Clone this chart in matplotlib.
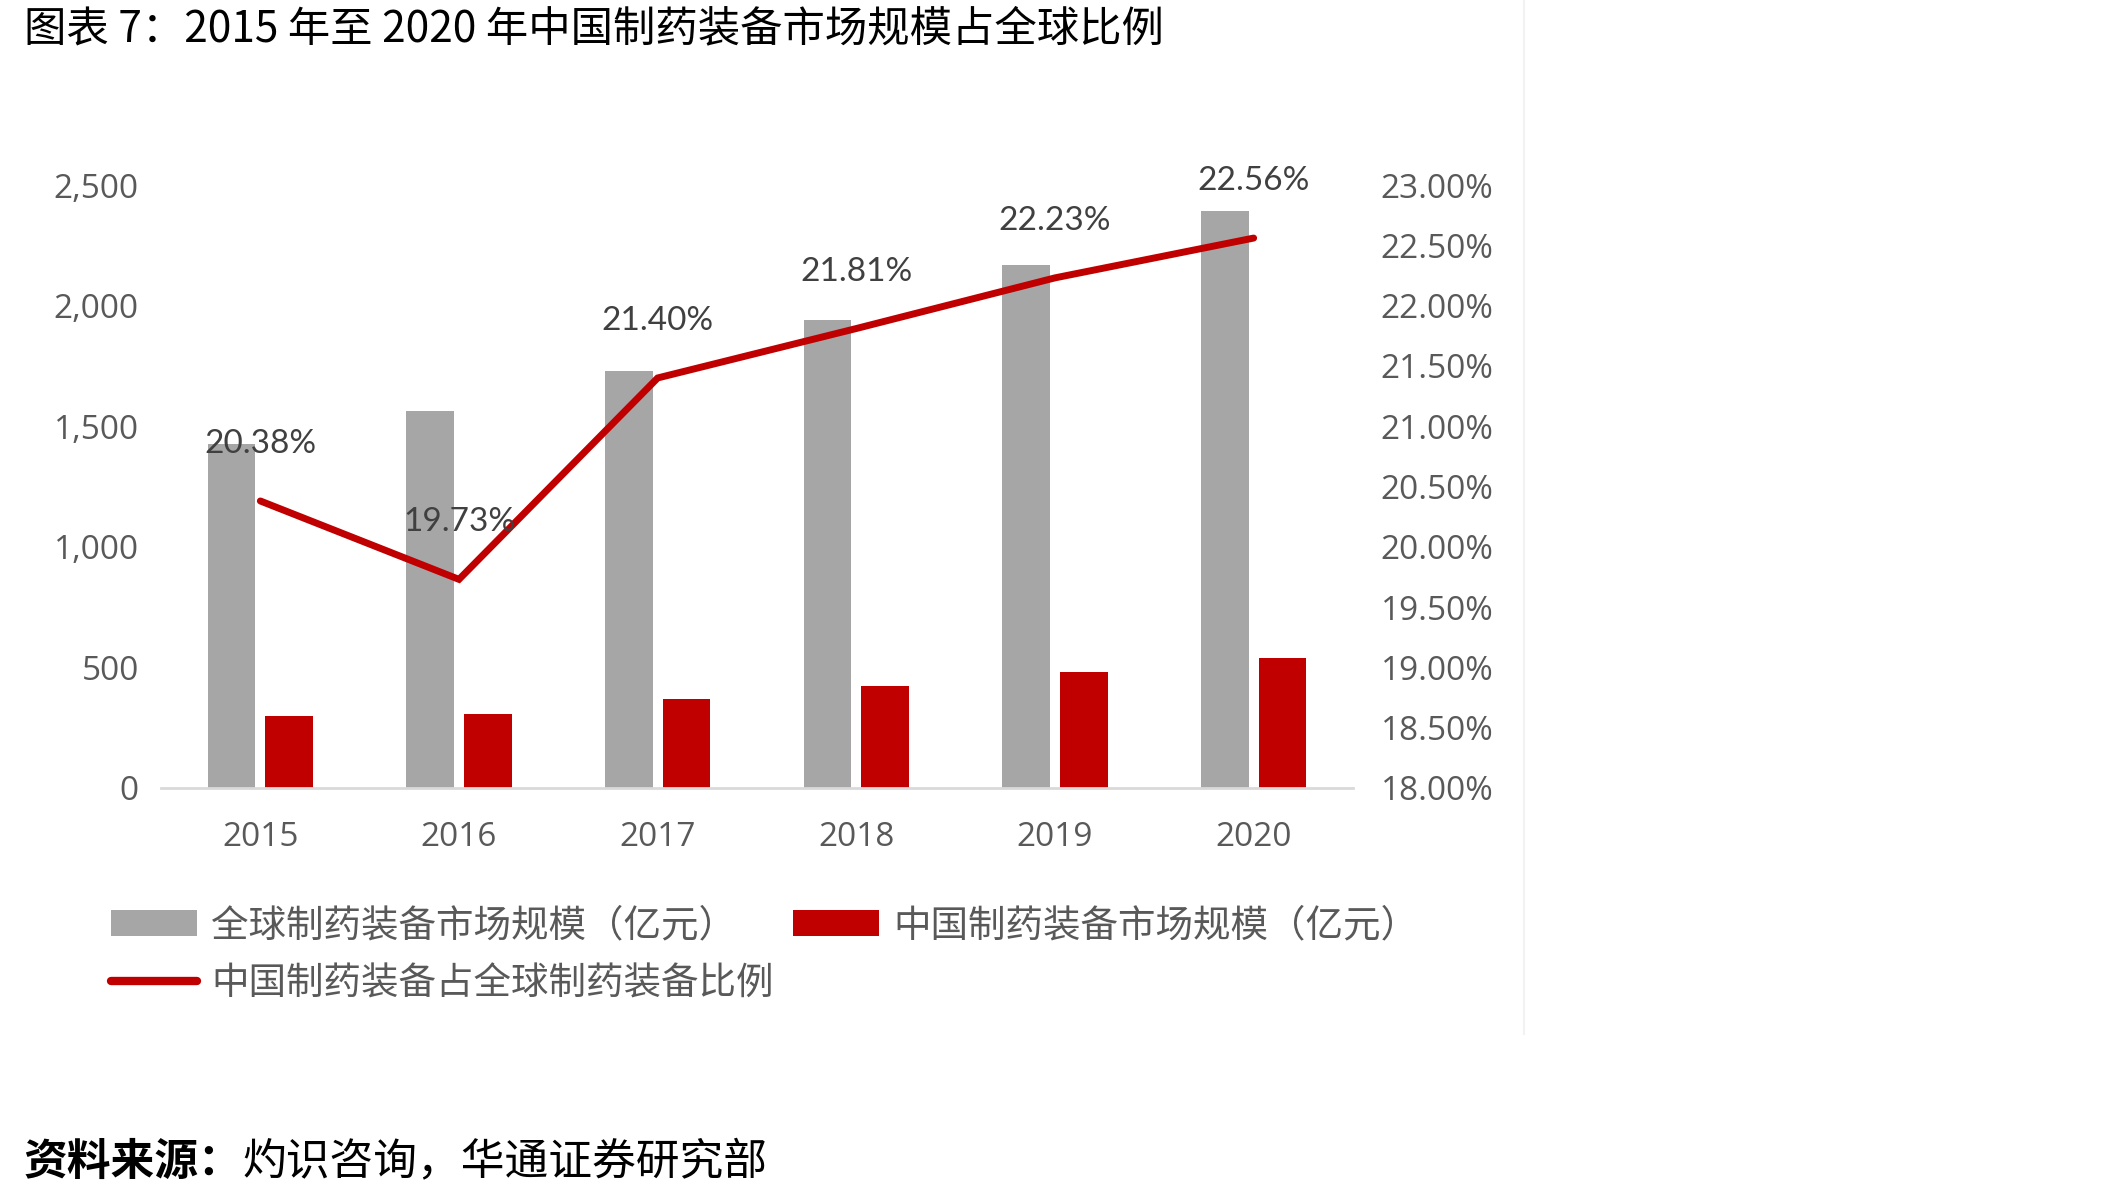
import matplotlib
matplotlib.use("Agg")
import matplotlib.pyplot as plt
from matplotlib.ticker import FuncFormatter, MultipleLocator
from matplotlib.patches import Patch
from matplotlib.lines import Line2D

plt.rcParams['font.family'] = ['Noto Sans CJK SC', 'DejaVu Sans']

years = ['2015', '2016', '2017', '2018', '2019', '2020']
global_size = [1426, 1561, 1730, 1939, 2168, 2394]
china_size = [300, 307, 371, 421, 481, 540]
china_share = [20.38, 19.73, 21.40, 21.81, 22.23, 22.56]

gray = '#A6A6A6'
red = '#C00000'
tick_color = '#595959'

fig = plt.figure(figsize=(21.05, 11.96), dpi=100)
ax = fig.add_axes([161 / 2105, 1 - 788 / 1196, 1192 / 2105, 603 / 1196])
ax2 = ax.twinx()

x = list(range(len(years)))
w = 0.24
ax.bar([i - 0.145 for i in x], global_size, width=w, color=gray, zorder=2)
ax.bar([i + 0.145 for i in x], china_size, width=w, color=red, zorder=2)

ax.set_xlim(-0.5, 5.5)
ax.set_ylim(0, 2500)
ax.yaxis.set_major_locator(MultipleLocator(500))
ax.yaxis.set_major_formatter(FuncFormatter(lambda v, p: f'{int(v):,}'))
ax.set_xticks(x)
ax.set_xticklabels(years)

ax2.plot(x, [v / 100 for v in china_share], color=red, linewidth=5,
         solid_capstyle='round', solid_joinstyle='miter', zorder=3)
ax2.set_ylim(0.18, 0.23)
ax2.yaxis.set_major_locator(MultipleLocator(0.005))
ax2.yaxis.set_major_formatter(FuncFormatter(lambda v, p: f'{v * 100:.2f}%'))

for i, v in enumerate(china_share):
    ax2.annotate(f'{v:.2f}%', (i, v / 100), xytext=(0, 41), textcoords='offset points',
                 ha='center', va='center', fontsize=24, color='#404040', family='Lato')

for a in (ax, ax2):
    for s in a.spines.values():
        s.set_visible(False)
ax.spines['bottom'].set_visible(True)
ax.spines['bottom'].set_color('#D9D9D9')
ax.spines['bottom'].set_linewidth(2)

ax.tick_params(axis='y', length=0, pad=16, labelsize=24, labelcolor=tick_color)
ax.tick_params(axis='x', length=0, pad=24, labelsize=24, labelcolor=tick_color)
ax2.tick_params(axis='y', length=0, pad=20, labelsize=24, labelcolor=tick_color)
for lab in ax.get_xticklabels() + ax.get_yticklabels() + ax2.get_yticklabels():
    lab.set_family('Open Sans')

handles = [
    Patch(facecolor=gray, label='全球制药装备市场规模（亿元）'),
    Line2D([0], [0], color=red, linewidth=6, solid_capstyle='round',
           label='中国制药装备占全球制药装备比例'),
    Patch(facecolor=red, label='中国制药装备市场规模（亿元）'),
]
fig.legend(handles=handles, ncol=2, loc='upper left',
           bbox_to_anchor=(111 / 2105, 1 - 906 / 1196), frameon=False,
           fontsize=27, handlelength=2.3, handleheight=0.72, handletextpad=0.38,
           columnspacing=0.5, labelspacing=0.52, borderpad=0, borderaxespad=0,
           labelcolor=tick_color)

fig.text(24 / 2105, 1 - 29 / 1196, '图表 7：2015 年至 2020 年中国制药装备市场规模占全球比例',
         fontsize=30.5, color='black', va='center', ha='left', fontweight='medium')

src = fig.text(24 / 2105, 1 - 1162 / 1196, '资料来源：', fontsize=31.5,
               fontweight='bold', color='black', va='center', ha='left')
ax.annotate('灼识咨询，华通证券研究部', xy=(1, 0.5), xycoords=src, va='center',
            ha='left', fontsize=31.5, color='black', annotation_clip=False)

fig.add_artist(Line2D([1524 / 2105, 1524 / 2105], [1 - 1034 / 1196, 1],
                      color='#F2F2F2', linewidth=1.5))

fig.savefig('out.png', dpi=100, facecolor='white')
